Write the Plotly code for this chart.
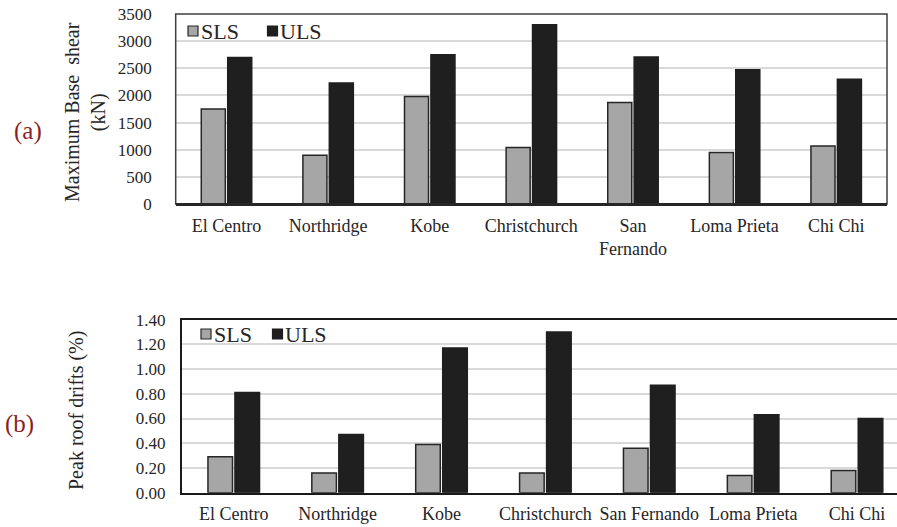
import plotly.graph_objects as go

# Earthquake records analysed
records = ["El Centro", "Northridge", "Kobe", "Christchurch", "San Fernando", "Loma Prieta", "Chi Chi"]
records_top = ["El Centro", "Northridge", "Kobe", "Christchurch", "San<br>Fernando", "Loma Prieta", "Chi Chi"]

# (a) Maximum base shear, kN
shear_sls = [1750, 900, 1980, 1040, 1870, 950, 1070]
shear_uls = [2700, 2230, 2750, 3300, 2710, 2475, 2300]

# (b) Peak roof drift, %
drift_sls = [0.29, 0.16, 0.39, 0.16, 0.36, 0.14, 0.18]
drift_uls = [0.81, 0.47, 1.17, 1.30, 0.87, 0.63, 0.60]

shear_ticks = [0, 500, 1000, 1500, 2000, 2500, 3000, 3500]
drift_ticks = [0.0, 0.2, 0.4, 0.6, 0.8, 1.0, 1.2, 1.4]

W, H = 897, 527
FONT = "Liberation Serif"
TXT = "#262626"
SLS_FILL, ULS_FILL, EDGE = "#a6a6a6", "#1f1f1f", "#262626"
GRID = "#d9d9d9"


def px(x):
    return x / W


def py(y):
    return (H - y) / H


fig = go.Figure()

for xa, ya, cats, sls, uls in [("x", "y", records_top, shear_sls, shear_uls),
                               ("x2", "y2", records, drift_sls, drift_uls)]:
    fig.add_trace(go.Bar(x=cats, y=sls, name="SLS", xaxis=xa, yaxis=ya,
                         marker=dict(color=SLS_FILL, line=dict(color=EDGE, width=1.5)),
                         showlegend=False))
    fig.add_trace(go.Bar(x=cats, y=uls, name="ULS", xaxis=xa, yaxis=ya,
                         marker=dict(color=ULS_FILL, line=dict(color=ULS_FILL, width=1.5)),
                         showlegend=False))

axis_font = dict(family=FONT, size=17, color=TXT)
cat_font = dict(family=FONT, size=18, color=TXT)

fig.update_layout(
    width=W, height=H, autosize=False,
    margin=dict(l=0, r=0, t=0, b=0),
    paper_bgcolor="white", plot_bgcolor="white",
    barmode="group", bargap=0.48, bargroupgap=0.09,
    font=dict(family=FONT, color=TXT),
    xaxis=dict(domain=[px(175.7), px(887)], anchor="y", type="category", automargin=False,
               range=[-0.5, 6.5], showline=True, linecolor=EDGE, linewidth=2,
               showgrid=False, tickfont=cat_font, ticks="", ticklabelstandoff=4),
    yaxis=dict(domain=[py(204), py(14)], anchor="x", range=[0, 3500], automargin=False,
               tickvals=shear_ticks, showgrid=True, gridcolor=GRID, gridwidth=1.5,
               zeroline=False, showline=False, tickfont=axis_font, ticks="",
               ticklabelstandoff=23),
    xaxis2=dict(domain=[px(181.8), 1.0], anchor="y2", type="category", automargin=False,
                range=[-0.5, 6.385], showline=True, mirror=True, linecolor="#1a1a1a",
                linewidth=2, showgrid=False, tickfont=cat_font, ticks="",
                ticklabelstandoff=4),
    yaxis2=dict(domain=[py(492.7), py(319.6)], anchor="x2", range=[0, 1.4], automargin=False,
                tickvals=drift_ticks, tickformat=".2f", showgrid=True, gridcolor=GRID,
                gridwidth=1.5, zeroline=False, showline=True, linecolor="#1a1a1a",
                linewidth=2, tickfont=axis_font, ticks="", ticklabelstandoff=11),
)

# Frame around the base-shear plot area
fig.add_shape(type="rect", xref="x domain", yref="y domain", x0=0, x1=1, y0=0, y1=1,
              line=dict(color="#404040", width=1.5), layer="above")
fig.add_shape(type="line", xref="x domain", yref="y domain", x0=0, x1=1, y0=0, y1=0,
              line=dict(color=EDGE, width=2), layer="above")

# Axis titles and panel labels
fig.add_annotation(x=px(85), y=py(112), xref="paper", yref="paper",
                   xanchor="center", yanchor="middle",
                   text="Maximum Base  shear<br>(kN)", textangle=-90, showarrow=False,
                   font=dict(family=FONT, size=20, color=TXT))
fig.add_annotation(x=px(76), y=py(411), xref="paper", yref="paper",
                   xanchor="center", yanchor="middle",
                   text="Peak roof drifts (%)", textangle=-90, showarrow=False,
                   font=dict(family=FONT, size=20, color=TXT))
for label, x, y in [("(a)", 28, 131), ("(b)", 19, 424)]:
    fig.add_annotation(x=px(x), y=py(y), xref="paper", yref="paper", text=label,
                       xanchor="center", yanchor="middle",
                       showarrow=False, font=dict(family=FONT, size=25, color="#8b1f24"))

# Legends drawn inside each plot area
legend_rows = [
    (31, [(188, "SLS", SLS_FILL, EDGE), (267.5, "ULS", ULS_FILL, ULS_FILL)]),
    (334, [(201, "SLS", SLS_FILL, EDGE), (272.5, "ULS", ULS_FILL, ULS_FILL)]),
]
for yc, items in legend_rows:
    for x0, name, fill, edge in items:
        fig.add_shape(type="rect", xref="paper", yref="paper",
                      x0=px(x0), x1=px(x0 + 10), y0=py(yc + 5), y1=py(yc - 5),
                      fillcolor=fill, line=dict(color=edge, width=1.2))
        fig.add_annotation(x=px(x0 + 10.5), y=py(yc), xref="paper", yref="paper",
                           text=name, showarrow=False, xanchor="left", yanchor="middle",
                           font=dict(family=FONT, size=22, color=TXT))

fig.write_html("out.html")
